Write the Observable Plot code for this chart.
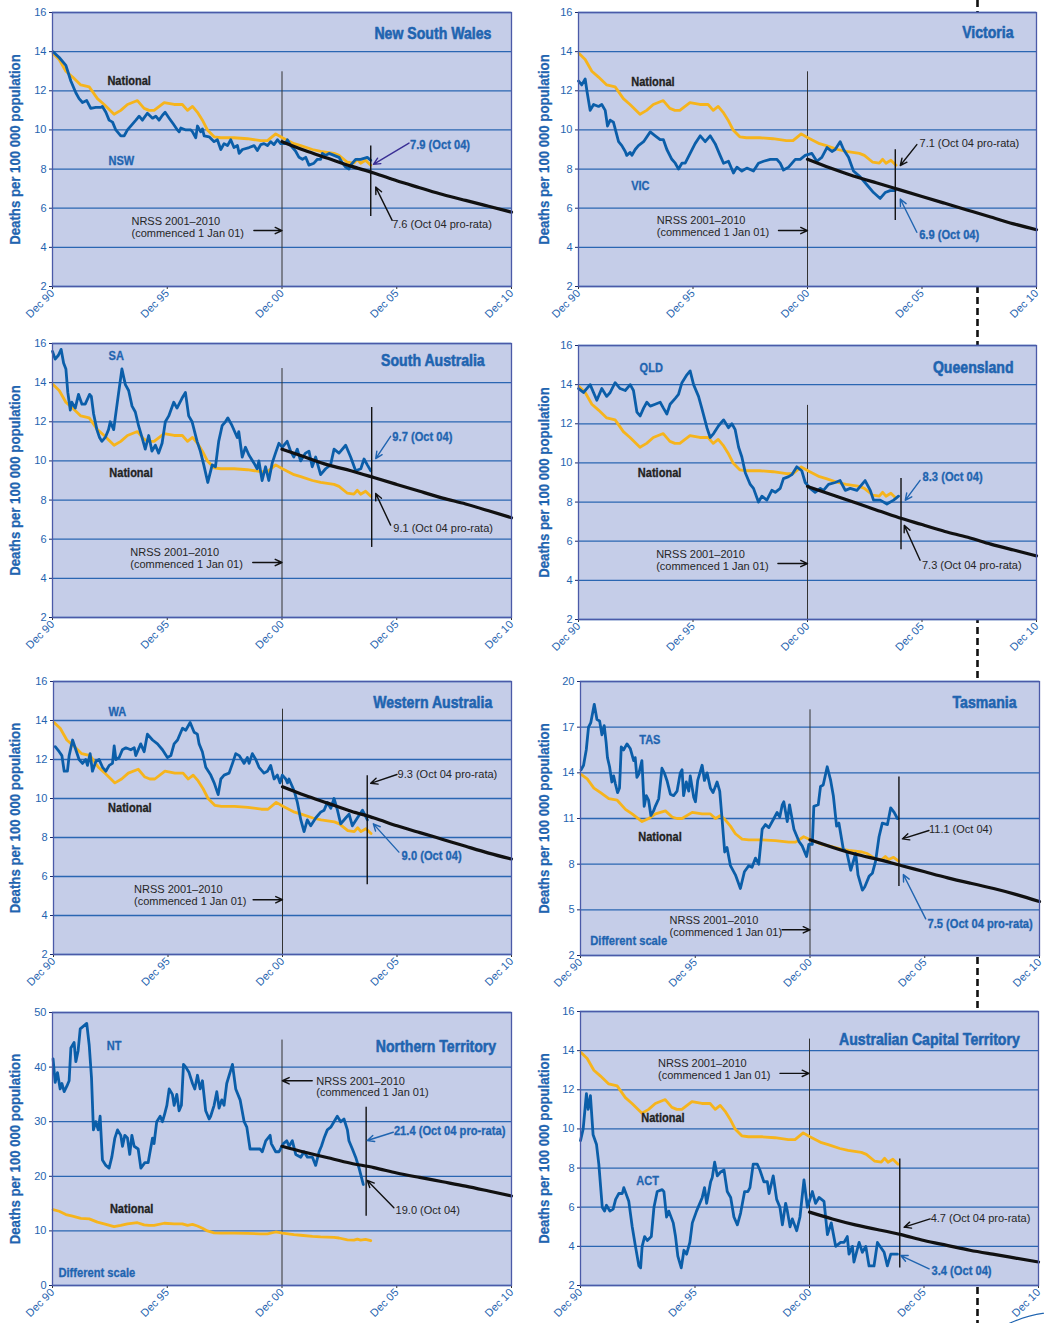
<!DOCTYPE html>
<html><head><meta charset="utf-8">
<script src="https://cdn.jsdelivr.net/npm/d3@7"></script>
<script src="https://cdn.jsdelivr.net/npm/@observablehq/plot@0.6"></script>
<style>
body{margin:0;background:#fff;}
#page{position:relative;width:1044px;height:1323px;overflow:hidden;background:#fff;}
.panel{position:absolute;}
.deco{position:absolute;left:0;top:0;}
</style></head>
<body><div id="page">
<svg class="deco" width="1044" height="1323">
  <line x1="977.5" y1="0" x2="977.5" y2="1323" stroke="#111" stroke-width="2.6" stroke-dasharray="7,4"/>
  <ellipse cx="1075" cy="1345" rx="85" ry="34" fill="none" stroke="#1f64b0" stroke-width="1.2"/>
</svg>
</div>
<script>
// ---------- shared categories ----------
const xTicks = [0, 60, 120, 180, 240];                 // months since Dec 90
const xTickLabels = ["Dec 90", "Dec 95", "Dec 00", "Dec 05", "Dec 10"];
const trendMonths = [120, 132, 144, 156, 168, 180, 192, 204, 216, 228, 240];
const yTicksStd = [2, 4, 6, 8, 10, 12, 14, 16];
const yTicksTas = [2, 5, 8, 11, 14, 17, 20];
const yTicksNt = [0, 10, 20, 30, 40, 50];
const yAxisTitle = "Deaths per 100 000 population";

// ---------- series: [months since Dec 90, deaths per 100 000] ----------
const national = [[0.3,13.9],[3.5,13.6],[7,13.0],[10.5,12.7],[14.8,12.3],[19.2,12.2],[23.5,11.6],[27,11.3],[32.2,10.8],[35.7,11.0],[39.2,11.3],[44.4,11.5],[47.9,11.1],[50.5,11.0],[53.1,11.0],[58.4,11.4],[63.6,11.3],[67.9,11.3],[70.6,11.0],[73.2,11.2],[75.8,10.9],[78.4,10.5],[81,10.0],[84.5,9.65],[88,9.6],[94.9,9.6],[101.9,9.55],[108.9,9.45],[112.4,9.45],[116.7,9.8],[120.2,9.6],[126.3,9.3],[129.8,9.2],[135.9,9.0],[140.2,8.9],[147.2,8.8],[149.8,8.7],[154.2,8.35],[157.6,8.3],[159.4,8.5],[161.1,8.3],[163.7,8.45],[166.4,8.2]];
const nsw = [[0.3,14.0],[3.5,13.7],[7,13.3],[9.6,12.5],[12.2,11.9],[13.9,11.6],[15.7,11.4],[17.9,11.5],[20,11.1],[22.6,11.15],[25.3,11.15],[26.1,11.2],[27.9,10.9],[29.6,10.5],[31.4,10.4],[33.1,10.0],[35.7,9.7],[37.5,9.7],[39.2,10.0],[41.8,10.3],[43.6,10.5],[45.3,10.7],[47,10.5],[49.6,10.85],[52.3,10.6],[54,10.7],[55.7,10.5],[57.5,10.75],[58.9,10.9],[61,10.6],[63.2,10.3],[65.3,10.0],[66.2,9.9],[67.1,10.1],[69.7,10.0],[72.3,10.0],[73.2,9.9],[74.9,9.6],[75.8,10.2],[77.5,9.9],[78.4,10.05],[79.3,9.7],[81.9,9.65],[84.5,9.4],[86.2,9.5],[88,9.0],[89.7,9.3],[91.5,9.2],[93.2,9.5],[94.9,9.1],[96.7,9.2],[97.6,8.8],[99.3,9.0],[102.8,9.1],[105.4,9.2],[107.1,8.95],[108.9,9.25],[110.6,9.3],[112.4,9.2],[114.1,9.4],[115.8,9.25],[117.6,9.5],[119.3,9.3],[121.9,9.3],[122.8,9.5],[124.6,9.2],[127.2,8.9],[128.9,8.6],[130.7,8.5],[132.4,8.6],[134.1,8.2],[136.7,8.3],[138.5,8.5],[140.2,8.5],[141.1,8.8],[142.8,8.7],[144.6,8.8],[147.2,8.7],[149.8,8.6],[151.6,8.3],[153.3,8.1],[155,8.0],[155.9,8.2],[158.5,8.5],[161.1,8.5],[164.6,8.6],[166.4,8.45]];
const vic = [[0,12.5],[1.7,12.3],[3.5,12.6],[4.4,12.0],[6.1,11.0],[7.9,11.3],[10.5,11.2],[12.2,11.3],[14,11.0],[15.2,10.2],[16.6,10.5],[18.3,10.4],[21,9.4],[22.7,9.2],[24.5,8.9],[25.3,8.7],[27.1,8.85],[28,8.7],[29.7,9.0],[31.4,9.2],[34.1,9.4],[37.6,9.9],[40.2,9.7],[42.8,9.5],[44.5,9.5],[46.3,9.0],[48.9,8.5],[50.7,8.3],[52.4,8.0],[54.2,8.3],[55.9,8.3],[58.5,8.8],[61.1,9.3],[63.8,9.7],[66.4,9.4],[69,9.7],[71.6,9.3],[74.2,8.7],[76,8.3],[78.6,8.4],[81.2,7.8],[83,8.1],[85.6,7.9],[88.2,8.05],[91.7,7.9],[94.3,8.3],[97,8.4],[100.5,8.5],[103.9,8.5],[105.7,8.3],[107.4,7.95],[110.1,8.1],[113.6,8.5],[116.2,8.5],[118.8,8.7],[122.3,8.8],[124.9,8.4],[127.5,8.6],[130.2,9.1],[132.8,8.9],[134.5,9.0],[137.1,9.4],[138.9,9.0],[141.5,8.6],[144.1,7.9],[147.6,7.6],[151.1,7.2],[154.6,6.8],[158.1,6.5],[160.7,6.8],[163.3,6.9],[166,6.9]];
const sa = [[0,15.6],[1.4,15.2],[3.1,15.4],[4.5,15.7],[5.8,15.0],[7,14.7],[8,13.5],[9.3,12.6],[10.1,13.0],[11.9,12.7],[13.6,13.4],[15.4,12.9],[17.1,12.9],[19.4,13.4],[20.3,13.3],[21.5,12.4],[23.2,11.6],[24.6,11.2],[25.8,11.0],[27.6,11.2],[29.3,11.6],[30.2,12.0],[32,11.6],[32.8,12.2],[34.6,13.5],[36.3,14.7],[38.1,13.9],[39.8,13.6],[41.6,12.8],[43.3,12.5],[45,11.8],[46.8,11.2],[48.5,10.6],[50.3,11.3],[52,10.5],[53.8,10.8],[55.5,10.4],[57.3,10.9],[59,12.0],[60.8,12.3],[63.4,13.0],[65.1,12.7],[67.7,13.2],[69.5,13.5],[71.2,12.3],[73,12.0],[75.6,11.0],[77.3,10.5],[79.1,9.8],[81.2,8.9],[83.5,9.8],[85.2,9.7],[86.9,11.0],[88.7,11.8],[90.4,12.0],[91.7,12.2],[93.9,11.8],[96.6,11.2],[97.4,11.5],[99.2,10.2],[100.9,10.7],[102.7,10.3],[105.3,9.9],[107,9.6],[107.9,10.0],[109.6,9.0],[111.4,9.7],[113.1,9.0],[114.9,9.9],[116.6,10.4],[118.4,10.9],[120.1,10.7],[122.7,11.0],[124.5,10.5],[126.2,10.2],[128,10.6],[129.7,10.0],[132.3,10.4],[134.1,10.5],[135.8,9.7],[137.6,10.2],[140.2,9.3],[142.8,9.6],[145.4,9.8],[147.2,10.6],[149.8,10.4],[153.3,10.8],[155.9,10.2],[158.5,9.5],[161.2,9.6],[162.9,10.1],[164.6,9.8],[166.4,9.5]];
const qld = [[0,13.8],[2.6,13.6],[6.1,14.0],[9.6,13.2],[12.2,13.8],[14.8,13.4],[16.6,13.6],[19.2,14.1],[21.8,13.8],[24.5,13.7],[27.1,14.0],[28.8,13.7],[30.6,12.6],[32.3,12.4],[34.1,12.8],[35.8,13.1],[37.6,12.9],[40.2,13.0],[42.8,13.1],[44.5,12.8],[46.3,12.5],[48,13.0],[50.7,13.3],[52.4,13.5],[54.2,14.1],[56.8,14.5],[58.5,14.7],[60.3,14.0],[62.9,13.4],[64.6,12.8],[67.3,11.8],[69,11.3],[70.8,11.5],[73.4,11.9],[76,12.2],[78.6,11.8],[80.4,12.0],[82.1,11.7],[83.9,10.8],[85.6,10.3],[87.4,9.5],[90,8.9],[91.7,8.7],[94.3,8.0],[96.1,8.3],[98.7,8.1],[101.3,8.6],[103.1,8.5],[105.7,8.7],[107.4,9.2],[110.1,9.3],[111.8,9.4],[114.4,9.8],[117,9.6],[118.8,9.0],[121.4,8.7],[124,8.5],[126.7,8.7],[128.4,8.6],[131,8.9],[134.5,9.0],[137.1,9.1],[139.8,8.6],[142.4,8.7],[145.9,8.6],[150.2,9.1],[152.9,8.6],[154.6,8.1],[158.1,8.1],[161.6,7.9],[165.1,8.1],[167.7,8.3]];
const wa = [[0.9,12.66],[3,12.4],[4.4,12.2],[5.6,11.4],[7.3,11.4],[8.2,12.2],[10,13.0],[11.7,12.5],[13.4,12.0],[15.2,11.8],[16.9,12.0],[17.8,11.7],[19.2,12.3],[20.4,11.4],[22.2,11.9],[23.9,12.0],[25.7,11.6],[27.4,11.4],[29.2,11.7],[30.9,11.8],[31.8,12.7],[32.7,12.0],[34.4,12.1],[36.1,12.5],[37.9,12.6],[40.5,12.5],[42.3,12.6],[43.1,12.2],[45.7,12.8],[47.5,12.4],[49.2,13.3],[51.9,13.0],[54.5,12.8],[57.1,12.5],[59.7,12.1],[61.5,12.2],[63.2,12.8],[65,13.0],[67.6,13.6],[69.3,13.5],[71.6,13.9],[73.7,13.4],[75.4,13.3],[76.3,12.8],[78,12.4],[79.8,11.6],[82.4,11.2],[84.2,10.8],[86.3,10.2],[87.7,11.0],[89.4,11.2],[92,11.3],[93.8,11.8],[95.5,12.3],[97.3,12.2],[99.9,11.8],[101.6,12.1],[102.5,11.8],[104.2,12.3],[106,12.0],[107.7,11.6],[110.3,11.3],[112.1,11.4],[113.8,11.7],[115.6,11.0],[117.3,11.2],[118.7,10.8],[119.9,11.2],[121.7,11.0],[122.6,10.8],[123.4,11.0],[126.1,10.4],[127.8,9.8],[129.6,8.9],[131.3,8.3],[133,8.9],[134.8,8.6],[137.4,9.0],[140,9.3],[141.8,9.4],[143.5,9.8],[145.3,9.5],[147,10.0],[148.8,9.4],[150.5,8.7],[153.1,9.0],[154.9,9.2],[156.6,8.6],[159.2,9.0],[161.9,9.4],[164.5,8.9]];
const tas = [[0.3,14.2],[1.6,14.5],[3,15.5],[4.2,17.0],[5.4,17.3],[7.2,18.5],[8.6,17.5],[10,17.4],[11.2,16.5],[12.4,17.1],[13.4,16.0],[14.1,15.0],[15.2,14.4],[16.4,13.4],[17.3,13.8],[18.2,13.3],[19.4,12.7],[20.4,13.0],[21.3,15.7],[22.5,15.5],[24.3,15.9],[26,15.6],[27.8,14.8],[28.6,15.0],[29.5,13.7],[30.4,13.9],[32.1,14.8],[33.3,11.8],[34.4,12.5],[35.6,12.2],[36.8,11.2],[38.2,11.5],[39.1,11.8],[40.9,12.3],[42.6,14.3],[43.8,14.0],[45.2,13.5],[47,12.6],[48.7,12.5],[50.5,12.8],[52.2,14.0],[53.1,14.2],[53.9,12.5],[55.3,13.4],[56.6,12.8],[57.4,13.8],[59.2,12.4],[60.1,12.1],[61.3,13.5],[63.6,14.5],[64.8,13.5],[66.2,14.0],[67.9,13.0],[69.3,12.7],[71.4,13.4],[72.8,12.8],[74,11.0],[75.4,8.8],[76.6,9.1],[78.4,7.9],[81,7.3],[83.6,6.4],[85.7,7.5],[88,7.9],[89.7,7.8],[91.5,8.4],[93.2,8.0],[95,10.3],[96.7,10.6],[98.5,10.4],[101.1,11.0],[102.8,11.4],[104.2,11.1],[105.5,11.9],[106.3,12.1],[108.1,10.8],[109.3,11.9],[111.6,10.3],[114.2,9.5],[115.9,9.2],[118.2,8.5],[119.4,9.3],[121.2,9.3],[122,11.8],[124.3,11.9],[125.5,13.1],[126.9,13.2],[129,14.4],[130.8,13.5],[132.2,12.5],[133.9,10.5],[135.1,10.7],[137.4,9.0],[139.2,8.8],[141.3,7.6],[143.9,8.7],[145.1,7.3],[147.4,6.3],[148.6,6.5],[150.9,7.2],[152.6,7.4],[154.3,8.2],[156.1,9.8],[157.8,10.7],[160.5,10.6],[162.2,11.7],[164,11.4],[165.7,11.0]];
const nt = [[0.3,41.5],[1.4,37.2],[2.6,39],[4,36],[4.9,37],[6.1,35.5],[7.5,36.5],[8.7,37.5],[9.6,43.5],[11.3,44.5],[12.2,41],[13.4,43],[14.5,47],[16.2,47.5],[17.9,48],[19.2,44],[20.4,38],[21.4,28.5],[22.6,30],[23.9,28.5],[24.9,31],[26.1,23],[27.9,22],[29.6,21.5],[31,23.5],[32.6,27],[34,28.5],[35.7,27.5],[36.6,25.5],[37.8,27.5],[39.2,27],[40.4,24],[41.5,27.5],[42.7,25.5],[44.8,25],[46.2,21.5],[48.3,22.5],[50,22.5],[52.3,27],[53.1,26],[54.5,30],[56.3,31],[57.5,30],[58.7,31.5],[59.8,33],[61,36],[62.7,35],[63.6,33],[65,35],[66.2,32],[67.4,33],[68.5,40.5],[69.7,40],[71.4,39],[73.2,37],[74.4,36],[75.8,38.5],[77.2,36],[78.4,37.5],[80.1,32],[81.9,30.5],[82.7,31],[84.5,33],[85.9,35.5],[87.1,32.5],[88.5,34],[89.7,33],[91.1,37],[94.1,40.5],[95.8,36],[98.1,34],[100.2,30],[101.6,29],[103.3,25],[106.3,25],[108.5,25],[109.7,24.5],[111.5,26.5],[113.8,27.5],[114.4,26],[116.7,24.5],[118.5,24.5],[120.7,26],[122.5,26.5],[123.7,25.5],[125.4,26.5],[127.2,24],[129.8,23.5],[131.5,24.5],[133.3,23.5],[135.9,23.5],[137.6,22],[139.4,24.5],[140.6,25.5],[142,27],[143.7,28.5],[145.5,29],[147.2,30],[148.9,31],[150.7,30],[152.4,30.5],[154.2,28.5],[155,26.5],[156.8,25],[158.5,23.5],[160.3,21.5],[162.5,18.5]];
const act = [[0,9.4],[1.4,10.0],[3.1,11.8],[4,11.0],[5.2,11.7],[6.6,9.7],[8.4,9.2],[9.6,8.2],[11.4,6.0],[12.6,5.8],[13.6,6.1],[15.4,5.8],[17.1,5.9],[18.4,6.4],[20.1,6.7],[21.9,6.7],[22.7,7.0],[25.3,6.3],[27.1,5.0],[28.8,4.0],[30.6,3.0],[31.5,2.9],[32.3,4.0],[33.6,4.5],[35,4.3],[37.1,4.5],[38.5,6.0],[40.2,6.8],[42.8,6.9],[43.7,6.8],[45.1,5.5],[46.3,5.8],[48.6,5.2],[49.8,4.5],[51,3.5],[52.8,2.9],[54.2,3.8],[55.6,3.6],[57.3,4.2],[58.6,5.2],[60.8,5.8],[63.8,6.5],[65,7.0],[66.1,6.2],[68.2,7.3],[69,7.5],[70.3,8.3],[71.7,7.6],[73.4,7.8],[75.2,7.9],[76.9,6.8],[78.7,6.5],[80.4,5.5],[82.2,5.1],[83.9,5.7],[86,6.8],[87.7,6.8],[88.8,7.0],[90.5,8.2],[92.6,8.2],[94,7.9],[96.1,7.3],[97.9,7.3],[98.8,6.7],[101,7.6],[102.8,6.4],[104.5,6.0],[105.8,5.1],[107.5,6.2],[108.4,5.8],[109.8,5.0],[111,5.4],[113.3,4.8],[115,5.5],[117.1,7.4],[118.9,6.0],[121.5,6.8],[123.2,6.2],[125,6.5],[127.6,6.3],[129.4,4.6],[131.4,5.2],[133.7,4.0],[136.3,4.2],[138.1,4.2],[139.8,4.5],[140.7,3.6],[142.5,4.0],[143.3,3.2],[146,4.2],[147.7,3.7],[149.5,4.0],[151.2,3.0],[153.8,3.0],[155.6,4.2],[159.1,3.7],[160.8,3.0],[162.6,3.6],[166.1,3.6]];

// ---------- NRSS target trajectories (yearly, Dec 00 -> Dec 10) ----------
const trendNsw = [9.4,8.95,8.55,8.15,7.8,7.4,7.05,6.7,6.4,6.1,5.8];
const trendVic = [8.5,8.05,7.65,7.3,6.95,6.6,6.25,5.9,5.55,5.2,4.9];
const trendSa  = [10.6,10.2,9.8,9.5,9.15,8.8,8.45,8.1,7.8,7.45,7.1];
const trendQld = [8.8,8.4,8.0,7.6,7.2,6.85,6.5,6.2,5.85,5.55,5.25];
const trendWa  = [10.6,10.15,9.75,9.35,9.0,8.6,8.25,7.9,7.55,7.2,6.9];
const trendTas = [9.6,9.1,8.65,8.3,7.9,7.5,7.1,6.75,6.4,6.0,5.55];
const trendNt  = [25.5,24.4,23.4,22.4,21.6,20.6,19.8,19.0,18.2,17.3,16.4];
const trendAct = [5.75,5.4,5.1,4.85,4.6,4.3,4.05,3.8,3.6,3.4,3.2];

const nrssText = "NRSS 2001–2010\n(commenced 1 Jan 01)";

// ---------- styles ----------
const C = {bg:"#c5cde8", grid:"#2a66b2", frame:"#4b5aa8", blue:"#0b5ea9", yellow:"#f6b41c",
           black:"#111111", text:"#1f64b0", note:"#262626", purple:"#3a2f95"};
const REG = "'Liberation Sans',Arial,sans-serif";
// bold labels: the original uses a condensed face; a marker family name carries the condensing factor
const condFont = sx => `'Liberation Sans',Arial,sans-serif,'cond${Math.round(sx * 100)}'`;
const textStyles = {
  title: {fontFamily: condFont(0.83), fontWeight: "bold", fontSize: 17, fill: C.text, stroke: C.text, strokeWidth: 0.6, textAnchor: "end"},
  nat:   {fontFamily: condFont(0.92), fontWeight: "bold", fontSize: 12, fill: "#222", stroke: "#222", strokeWidth: 0.3, textAnchor: "start"},
  st:    {fontFamily: condFont(0.92), fontWeight: "bold", fontSize: 12, fill: C.text, stroke: C.text, strokeWidth: 0.3, textAnchor: "start"},
  note:  {fontFamily: REG, fontSize: 11, fill: C.note, textAnchor: "start", lineHeight: 1.08},
  valB:  {fontFamily: condFont(0.93), fontWeight: "bold", fontSize: 12, fill: C.text, stroke: C.text, strokeWidth: 0.3, textAnchor: "start"},
  valK:  {fontFamily: REG, fontSize: 11, fill: C.note, textAnchor: "start"}
};
const arrowColors = {k: C.black, b: C.text, p: C.purple};

// ---------- panel layout and annotations ----------
const panels = [
  {title:"New South Wales", state:nsw, trend:trendNsw, frame:[52,12,511,286], svgLeft:0, svgW:520, labelX:15,
   yDomain:[2,16], yTicks:yTicksStd, nrssTop:12.97, oct:{x:166.4,y1:5.58,y2:9.18},
   texts:[{x:229.5,y:14.93,t:"New South Wales",s:"title"},{x:28.7,y:12.49,t:"National",s:"nat"},{x:29.3,y:8.39,t:"NSW",s:"st"},
          {x:41.3,y:5.03,t:nrssText,s:"note"},{x:186.9,y:9.21,t:"7.9 (Oct 04)",s:"valB"},{x:177.6,y:5.17,t:"7.6 (Oct 04 pro-rata)",s:"valK"}],
   arrows:[{x1:105.3,y1:4.86,x2:120,y2:4.86,c:"k"},{x1:186.4,y1:9.33,x2:167.8,y2:8.24,c:"p"},{x1:177.6,y1:5.38,x2:169,y2:7.08,c:"k"}]},
  {title:"Victoria", state:vic, trend:trendVic, frame:[578,12,1036,286], svgLeft:520, svgW:524, labelX:24,
   yDomain:[2,16], yTicks:yTicksStd, nrssTop:12.97, oct:{x:166,y1:5.37,y2:8.99},
   texts:[{x:228,y:14.95,t:"Victoria",s:"title"},{x:27.6,y:12.46,t:"National",s:"nat"},{x:27.6,y:7.12,t:"VIC",s:"st"},
          {x:41,y:5.08,t:nrssText,s:"note"},{x:178.7,y:9.33,t:"7.1 (Oct 04 pro-rata)",s:"valK"},{x:178.5,y:4.6,t:"6.9 (Oct 04)",s:"valB"}],
   arrows:[{x1:104.8,y1:4.86,x2:120,y2:4.86,c:"k"},{x1:177.3,y1:9.25,x2:168.6,y2:8.18,c:"k"},{x1:177.3,y1:4.77,x2:168.6,y2:6.47,c:"b"}]},
  {title:"South Australia", state:sa, trend:trendSa, frame:[52,343,511,617], svgLeft:0, svgW:520, labelX:15,
   yDomain:[2,16], yTicks:yTicksStd, nrssTop:14.72, oct:{x:166.9,y1:5.58,y2:12.73},
   texts:[{x:226,y:15.11,t:"South Australia",s:"title"},{x:29.3,y:15.35,t:"SA",s:"st"},{x:29.7,y:9.39,t:"National",s:"nat"},
          {x:40.7,y:5.05,t:nrssText,s:"note"},{x:177.7,y:11.2,t:"9.7 (Oct 04)",s:"valB"},{x:178.2,y:6.55,t:"9.1 (Oct 04 pro-rata)",s:"valK"}],
   arrows:[{x1:104.7,y1:4.81,x2:120,y2:4.81,c:"k"},{x1:176.8,y1:11.26,x2:169,y2:10.12,c:"b"},{x1:176.8,y1:6.72,x2:169,y2:8.34,c:"k"}]},
  {title:"Queensland", state:qld, trend:trendQld, frame:[578,345,1036,619], svgLeft:520, svgW:524, labelX:24,
   yDomain:[2,16], yTicks:yTicksStd, nrssTop:12.94, oct:{x:169,y1:5.57,y2:9.2},
   texts:[{x:228,y:14.86,t:"Queensland",s:"title"},{x:32,y:14.84,t:"QLD",s:"st"},{x:31.1,y:9.5,t:"National",s:"nat"},
          {x:40.7,y:5.03,t:nrssText,s:"note"},{x:180.3,y:9.25,t:"8.3 (Oct 04)",s:"valB"},{x:180,y:4.77,t:"7.3 (Oct 04 pro-rata)",s:"valK"}],
   arrows:[{x1:104.5,y1:4.86,x2:120,y2:4.86,c:"k"},{x1:179,y1:9.11,x2:171.2,y2:8.09,c:"b"},{x1:179,y1:5.03,x2:170.7,y2:6.81,c:"k"}]},
  {title:"Western Australia", state:wa, trend:trendWa, frame:[53,681,511,954], svgLeft:0, svgW:520, labelX:15,
   yDomain:[2,16], yTicks:yTicksStd, nrssTop:14.58, oct:{x:164.4,y1:5.58,y2:11.17},
   texts:[{x:229.9,y:14.93,t:"Western Australia",s:"title"},{x:28.8,y:14.41,t:"WA",s:"st"},{x:28.6,y:9.5,t:"National",s:"nat"},
          {x:42.2,y:5.03,t:nrssText,s:"note"},{x:180.3,y:11.22,t:"9.3 (Oct 04 pro-rata)",s:"valK"},{x:182.4,y:7.05,t:"9.0 (Oct 04)",s:"valB"}],
   arrows:[{x1:104.6,y1:4.81,x2:120,y2:4.81,c:"k"},{x1:180,y1:11.23,x2:166.2,y2:10.78,c:"k"},{x1:181,y1:7.25,x2:167.6,y2:8.7,c:"b"}]},
  {title:"Tasmania", state:tas, trend:trendTas, frame:[580,681,1039,955], svgLeft:520, svgW:524, labelX:24,
   yDomain:[2,20], yTicks:yTicksTas, nrssTop:18.14, oct:{x:166.5,y1:6.53,y2:13.72},
   texts:[{x:228,y:18.64,t:"Tasmania",s:"title"},{x:30.7,y:16.12,t:"TAS",s:"st"},{x:30.2,y:9.77,t:"National",s:"nat"},
          {x:46.6,y:3.91,t:nrssText,s:"note"},{x:5.1,y:2.94,t:"Different scale",s:"valB"},
          {x:182.2,y:10.26,t:"11.1 (Oct 04)",s:"valK"},{x:181.4,y:4.08,t:"7.5 (Oct 04 pro-rata)",s:"valB"}],
   arrows:[{x1:105.4,y1:3.69,x2:120,y2:3.69,c:"k"},{x1:182.2,y1:10.21,x2:168.3,y2:9.66,c:"k"},{x1:180.5,y1:4.41,x2:168.8,y2:7.32,c:"b"}]},
  {title:"Northern Territory", state:nt, trend:trendNt, frame:[52,1012,511,1285], svgLeft:0, svgW:520, labelX:15,
   yDomain:[0,50], yTicks:yTicksNt, nrssTop:44.95, oct:{x:164,y1:12.67,y2:32.64},
   texts:[{x:232,y:43.79,t:"Northern Territory",s:"title"},{x:28.4,y:43.91,t:"NT",s:"st"},{x:30,y:13.95,t:"National",s:"nat"},
          {x:3.1,y:2.31,t:"Different scale",s:"valB"},{x:137.9,y:36.42,t:nrssText,s:"note"},
          {x:178.5,y:28.2,t:"21.4 (Oct 04 pro-rata)",s:"valB"},{x:179.4,y:13.76,t:"19.0 (Oct 04)",s:"valK"}],
   arrows:[{x1:135.8,y1:37.5,x2:120.2,y2:37.5,c:"k"},{x1:178.2,y1:28.07,x2:164.6,y2:26.55,c:"b"},{x1:178.5,y1:14.25,x2:164.6,y2:19.24,c:"k"}]},
  {title:"Australian Capital Territory", state:act, trend:trendAct, frame:[580,1011,1038,1285], svgLeft:520, svgW:524, labelX:24,
   yDomain:[2,16], yTicks:yTicksStd, nrssTop:14.59, oct:{x:167.3,y1:2.89,y2:8.46},
   texts:[{x:230.2,y:14.59,t:"Australian Capital Territory",s:"title"},{x:31.8,y:10.54,t:"National",s:"nat"},{x:29.2,y:7.31,t:"ACT",s:"st"},
          {x:40.6,y:13.04,t:nrssText,s:"note"},{x:183.5,y:5.45,t:"4.7 (Oct 04 pro-rata)",s:"valK"},{x:183.9,y:2.73,t:"3.4 (Oct 04)",s:"valB"}],
   arrows:[{x1:104.5,y1:12.84,x2:119.7,y2:12.84,c:"k"},{x1:183.2,y1:5.4,x2:169.6,y2:4.98,c:"k"},{x1:182.7,y1:2.85,x2:167.8,y2:3.53,c:"b"}]}
];

const toSeries = pairs => pairs.map(([m, v]) => ({m, v}));
const toTrend = vals => vals.map((v, i) => ({m: trendMonths[i], v}));
const tickMap = new Map(xTicks.map((t, i) => [t, xTickLabels[i]]));

const page = document.getElementById("page");
for (const p of panels) {
  const [L, T, R, B] = p.frame;
  const mt = 12, mb = 44;
  const ml = L - p.svgLeft, mr = p.svgLeft + p.svgW - R;
  const height = (B - T) + mt + mb;
  const marks = [
    Plot.frame({fill: C.bg}),
    Plot.gridY(p.yTicks, {stroke: C.grid, strokeOpacity: 1, strokeWidth: 1.3}),
    Plot.axisY(p.yTicks, {tickSize: 3, tickPadding: 3, fill: C.text, stroke: "#1a2a6a", fontSize: 11, label: null}),
    Plot.axisX(xTicks, {tickSize: 3, tickPadding: 2, tickRotate: -45, tickFormat: d => tickMap.get(d),
                        fill: C.text, stroke: "#333", fontSize: 11, label: null}),
    Plot.ruleX([120], {y1: p.yDomain[0], y2: p.nrssTop, stroke: "#333", strokeWidth: 1}),
    Plot.line(toSeries(national), {x: "m", y: "v", stroke: C.yellow, strokeWidth: 2.8}),
    Plot.line(toSeries(p.state), {x: "m", y: "v", stroke: C.blue, strokeWidth: 2.8, strokeLinejoin: "round"}),
    Plot.line(toTrend(p.trend), {x: "m", y: "v", stroke: C.black, strokeWidth: 3.2, curve: "natural"}),
    Plot.ruleX([p.oct.x], {y1: p.oct.y1, y2: p.oct.y2, stroke: C.black, strokeWidth: 1.4}),
    Plot.frame({stroke: C.frame, strokeWidth: 1.3}),
    Plot.arrow(p.arrows, {x1: "x1", y1: "y1", x2: "x2", y2: "y2", stroke: d => arrowColors[d.c],
                          strokeWidth: 1.4, headLength: 8, headAngle: 50}),
    ...Object.entries(textStyles).map(([k, st]) =>
      Plot.text(p.texts.filter(d => d.s === k), {x: "x", y: "y", text: "t", ...st})),
    Plot.text([yAxisTitle], {text: d => d, frameAnchor: "left", textAnchor: "middle", dx: p.labelX - ml, rotate: -90,
                              fontFamily: condFont(0.88), fontWeight: "bold", fontSize: 15, fill: C.text,
                              stroke: C.text, strokeWidth: 0.3})
  ];
  const svg = Plot.plot({
    width: p.svgW, height,
    marginLeft: ml, marginRight: mr, marginTop: mt, marginBottom: mb,
    x: {domain: [0, 240]},
    y: {domain: p.yDomain},
    color: {type: "identity"},
    style: {background: "transparent", fontFamily: REG, overflow: "visible"},
    marks
  });
  // apply the horizontal condensing to marked text groups
  svg.querySelectorAll("g[font-family*='cond']").forEach(g => {
    const m = g.getAttribute("font-family").match(/cond(\d+)/);
    const s = +m[1] / 100;
    g.querySelectorAll("text").forEach(t => {
      t.setAttribute("transform", (t.getAttribute("transform") || "") + ` scale(${s},1)`);
    });
  });
  svg.classList.add("panel");
  svg.style.left = p.svgLeft + "px";
  svg.style.top = (T - mt) + "px";
  page.appendChild(svg);
}
</script>
</body></html>
